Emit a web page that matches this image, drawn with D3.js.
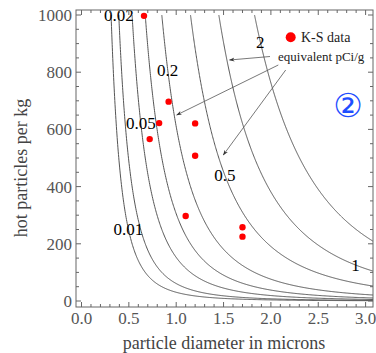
<!DOCTYPE html>
<html>
<head>
<meta charset="utf-8">
<script src="https://cdn.jsdelivr.net/npm/d3@7"></script>
<style>
  html, body { margin: 0; padding: 0; background: #fff; }
  svg { display: block; font-family: "Liberation Serif", "Times New Roman", serif; }
</style>
</head>
<body>
<div id="chart"></div>
<script>
// K-S data points
const diameters = [0.66, 0.92, 0.82, 0.72, 1.20, 1.20, 1.10, 1.70, 1.70];
const hotCounts = [997, 697, 622, 566, 621, 508, 297, 258, 225];

// equivalent pCi/g contour levels and the ones that carry a label
const levels = [0.01, 0.02, 0.05, 0.1, 0.2, 0.5, 1, 2];
const labelLevels = [0.01, 0.02, 0.05, 0.2, 0.5, 1, 2];
const labelCounts = [252, 1000, 622, 808, 440, 126, 906]; // where along each curve

const xTicks = [0, 0.5, 1, 1.5, 2, 2.5, 3];
const yTicks = [0, 200, 400, 600, 800, 1000];

// particles per kg giving a level c at diameter d: N = K c / d^3
const K = 3050;
const countFor = (c, d) => K * c / (d * d * d);
const diamFor = (c, n) => Math.cbrt(K * c / n);

const width = 376, height = 353;
const frame = {left: 76, right: 373, top: 10, bottom: 307};

const x = d3.scaleLinear().domain([0, 3]).range([81.5, 365.6]);
const y = d3.scaleLinear().domain([0, 1000]).range([301, 15]);

const svg = d3.select("#chart").append("svg")
	.attr("width", width)
	.attr("height", height);

svg.append("defs").append("clipPath").attr("id", "plotClip")
	.append("rect")
	.attr("x", frame.left).attr("y", y(1000))
	.attr("width", frame.right - frame.left)
	.attr("height", frame.bottom - y(1000));

svg.select("defs").append("marker")
	.attr("id", "arrow")
	.attr("viewBox", "0 0 10 10")
	.attr("refX", 9).attr("refY", 5)
	.attr("markerWidth", 7).attr("markerHeight", 7)
	.attr("orient", "auto")
	.append("path")
	.attr("d", "M0,1.5 L10,5 L0,8.5 L3,5 Z")
	.attr("fill", "#333");

//contour curves
const xMax = x.invert(frame.right);
const line = d3.line()
	.x(d => x(d[0]))
	.y(d => y(d[1]));

svg.append("g")
	.attr("clip-path", "url(#plotClip)")
	.selectAll("path")
	.data(levels)
	.enter().append("path")
	.attr("d", c => {
		const d0 = diamFor(c, 1000);
		const pts = d3.range(0, 401).map(i => {
			const d = d0 + (xMax - d0) * Math.pow(i / 400, 1.6);
			return [d, countFor(c, d)];
		});
		return line(pts);
	})
	.attr("fill", "none")
	.attr("stroke", "#555")
	.attr("stroke-width", 1);

//contour labels
svg.append("g")
	.selectAll("text")
	.data(labelLevels)
	.enter().append("text")
	.attr("x", (c, i) => x(diamFor(c, labelCounts[i])))
	.attr("y", (c, i) => y(labelCounts[i]))
	.attr("dy", "0.35em")
	.attr("text-anchor", "middle")
	.style("font-size", "17px")
	.attr("fill", "#000")
	.text(c => c);

//frame
svg.append("rect")
	.attr("x", frame.left).attr("y", frame.top)
	.attr("width", frame.right - frame.left)
	.attr("height", frame.bottom - frame.top)
	.attr("fill", "none")
	.attr("stroke", "#666")
	.attr("stroke-width", 1);

//ticks on all four sides, pointing inward
const xMinor = d3.range(0, 3.05, 0.1);
const yMinor = d3.range(0, 1001, 50);
const ticks = svg.append("g").attr("stroke", "#666").attr("stroke-width", 1);
xMinor.forEach(v => {
	const major = Math.abs(v * 2 - Math.round(v * 2)) < 1e-6;
	const len = major ? 5 : 3;
	ticks.append("line").attr("x1", x(v)).attr("x2", x(v))
		.attr("y1", frame.bottom).attr("y2", frame.bottom - len);
	ticks.append("line").attr("x1", x(v)).attr("x2", x(v))
		.attr("y1", frame.top).attr("y2", frame.top + len);
});
yMinor.forEach(v => {
	const len = v % 200 === 0 ? 5 : 3;
	ticks.append("line").attr("y1", y(v)).attr("y2", y(v))
		.attr("x1", frame.left).attr("x2", frame.left + len);
	ticks.append("line").attr("y1", y(v)).attr("y2", y(v))
		.attr("x1", frame.right).attr("x2", frame.right - len);
});

//tick labels
svg.append("g").selectAll("text")
	.data(xTicks)
	.enter().append("text")
	.attr("x", d => x(d))
	.attr("y", 318.5)
	.attr("dy", "0.35em")
	.attr("text-anchor", "middle")
	.style("font-size", "17px")
	.attr("fill", "#555")
	.text(d3.format(".1f"));

svg.append("g").selectAll("text")
	.data(yTicks)
	.enter().append("text")
	.attr("x", 72)
	.attr("y", d => y(d))
	.attr("dy", "0.35em")
	.attr("text-anchor", "end")
	.style("font-size", "17px")
	.attr("fill", "#555")
	.text(d => d);

//axis titles
svg.append("text")
	.attr("x", 224).attr("y", 343)
	.attr("dy", "0.35em")
	.attr("text-anchor", "middle")
	.style("font-size", "18px")
	.attr("fill", "#444")
	.text("particle diameter in microns");

svg.append("text")
	.attr("transform", "translate(21,168) rotate(-90)")
	.attr("dy", "0.35em")
	.attr("text-anchor", "middle")
	.style("font-size", "18px")
	.attr("fill", "#444")
	.text("hot particles per kg");

//data points
svg.append("g").selectAll("circle")
	.data(diameters)
	.enter().append("circle")
	.attr("cx", d => x(d))
	.attr("cy", (d, i) => y(hotCounts[i]))
	.attr("r", 3.2)
	.attr("fill", "#ff0000");

//legend
svg.append("circle").attr("cx", 290.7).attr("cy", 37.3).attr("r", 5).attr("fill", "#ff0000");
svg.append("text")
	.attr("x", 301).attr("y", 37.5).attr("dy", "0.35em")
	.style("font-size", "14px").attr("fill", "#222")
	.text("K-S data");
svg.append("text")
	.attr("x", 278).attr("y", 56).attr("dy", "0.35em")
	.style("font-size", "13px").attr("fill", "#222")
	.text("equivalent pCi/g");

//pointers from the legend to the curves
const pointers = [
	[[270, 56.5], [229.5, 60]],
	[[278.3, 65], [176.7, 115]],
	[[285.7, 70], [223.3, 155]]
];
svg.append("g").selectAll("line")
	.data(pointers)
	.enter().append("line")
	.attr("x1", d => d[0][0]).attr("y1", d => d[0][1])
	.attr("x2", d => d[1][0]).attr("y2", d => d[1][1])
	.attr("stroke", "#555")
	.attr("stroke-width", 0.8)
	.attr("marker-end", "url(#arrow)");

//panel number
svg.append("text")
	.attr("x", 348).attr("y", 105).attr("dy", "0.35em")
	.attr("text-anchor", "middle")
	.style("font-family", "'DejaVu Sans', sans-serif")
	.style("font-size", "33px")
	.attr("fill", "#1f4fff")
	.text("②");
</script>
</body>
</html>
